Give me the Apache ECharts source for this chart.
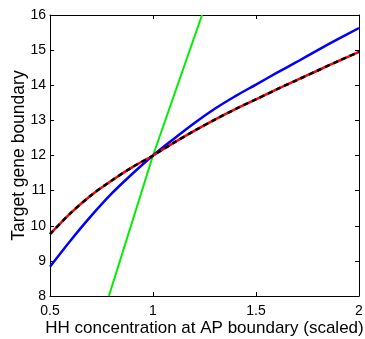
<!DOCTYPE html>
<html><head><meta charset="utf-8">
<script src="https://cdn.jsdelivr.net/npm/echarts@6/dist/echarts.min.js"></script>
<style>html,body{margin:0;padding:0;background:#fff}#c{width:365px;height:339px}</style>
</head><body><div id="c"></div>
<script>
const xTicks = [0.5, 1, 1.5, 2];
const yTicks = [8, 9, 10, 11, 12, 13, 14, 15, 16];
const blueX = [0.5, 0.6, 0.7, 0.8, 0.9, 1.0, 1.1, 1.2, 1.3, 1.4, 1.5, 1.6, 1.7, 1.8, 1.9, 2.0];
const blueY = [8.83, 9.58, 10.28, 10.92, 11.48, 12.0, 12.47, 12.92, 13.33, 13.69, 14.02, 14.35, 14.67, 15.0, 15.32, 15.63];
const redX = [0.5, 0.6, 0.7, 0.8, 0.9, 1.0, 1.1, 1.2, 1.3, 1.4, 1.5, 1.6, 1.7, 1.8, 1.9, 2.0];
const redY = [9.76, 10.36, 10.87, 11.29, 11.67, 12.0, 12.36, 12.7, 13.02, 13.32, 13.6, 13.88, 14.15, 14.42, 14.69, 14.95];
const greenX = [0.786, 1.0, 1.238];
const greenY = [8, 12, 16];
const xTitle = 'HH concentration at AP boundary (scaled)';
const yTitle = 'Target gene boundary';

const pairs = (xs, ys) => xs.map((x, i) => [x, ys[i]]);
const font = 'Liberation Sans, Arial, sans-serif';
const chart = echarts.init(document.getElementById('c'), null, {renderer: 'canvas'});
const axisLine = {show: true, lineStyle: {color: '#000', width: 1}};
const tickIn = {show: true, inside: true, length: 4, lineStyle: {color: '#000'}};
chart.setOption({
  animation: false,
  grid: {left: 50, right: 6, top: 15, bottom: 43, containLabel: false, outerBoundsMode: 'none'},
  xAxis: [{
    type: 'value', min: 0.5, max: 2, interval: 0.5,
    axisLine: axisLine, axisTick: tickIn, splitLine: {show: false},
    axisLabel: {color: '#000', fontSize: 14, fontFamily: font, margin: 8,
      formatter: v => xTicks.includes(v) ? String(v) : ''},
    name: xTitle, nameLocation: 'middle', nameGap: 24, nameMoveOverlap: false,
    nameTextStyle: {color: '#000', fontSize: 17, fontFamily: font}
  }, {
    type: 'value', position: 'top', min: 0.5, max: 2, interval: 0.5,
    axisLine: axisLine, axisTick: tickIn, axisLabel: {show: false}, splitLine: {show: false}
  }],
  yAxis: [{
    type: 'value', min: 8, max: 16, interval: 1,
    axisLine: axisLine, axisTick: tickIn, splitLine: {show: false},
    axisLabel: {color: '#000', fontSize: 14, fontFamily: font, margin: 4,
      formatter: v => yTicks.includes(v) ? String(v) : ''},
    name: yTitle, nameLocation: 'middle', nameGap: 22, nameMoveOverlap: false,
    nameTextStyle: {color: '#000', fontSize: 17.5, fontFamily: font}
  }, {
    type: 'value', position: 'right', min: 8, max: 16, interval: 1,
    axisLine: axisLine, axisTick: tickIn, axisLabel: {show: false}, splitLine: {show: false}
  }],
  series: [
    {type: 'line', data: pairs(greenX, greenY), showSymbol: false, clip: true,
      lineStyle: {color: '#00ee00', width: 2}},
    {type: 'line', data: pairs(blueX, blueY), showSymbol: false, smooth: 0.4, clip: true,
      lineStyle: {color: '#0000ff', width: 2.5}},
    {type: 'line', data: pairs(redX, redY), showSymbol: false, smooth: 0.3, clip: true,
      lineStyle: {color: '#ff0000', width: 2.5}},
    {type: 'line', data: pairs(redX, redY), showSymbol: false, smooth: 0.3, clip: true,
      lineStyle: {color: '#000', width: 2.5, type: [5, 4]}}
  ]
});
</script></body></html>
